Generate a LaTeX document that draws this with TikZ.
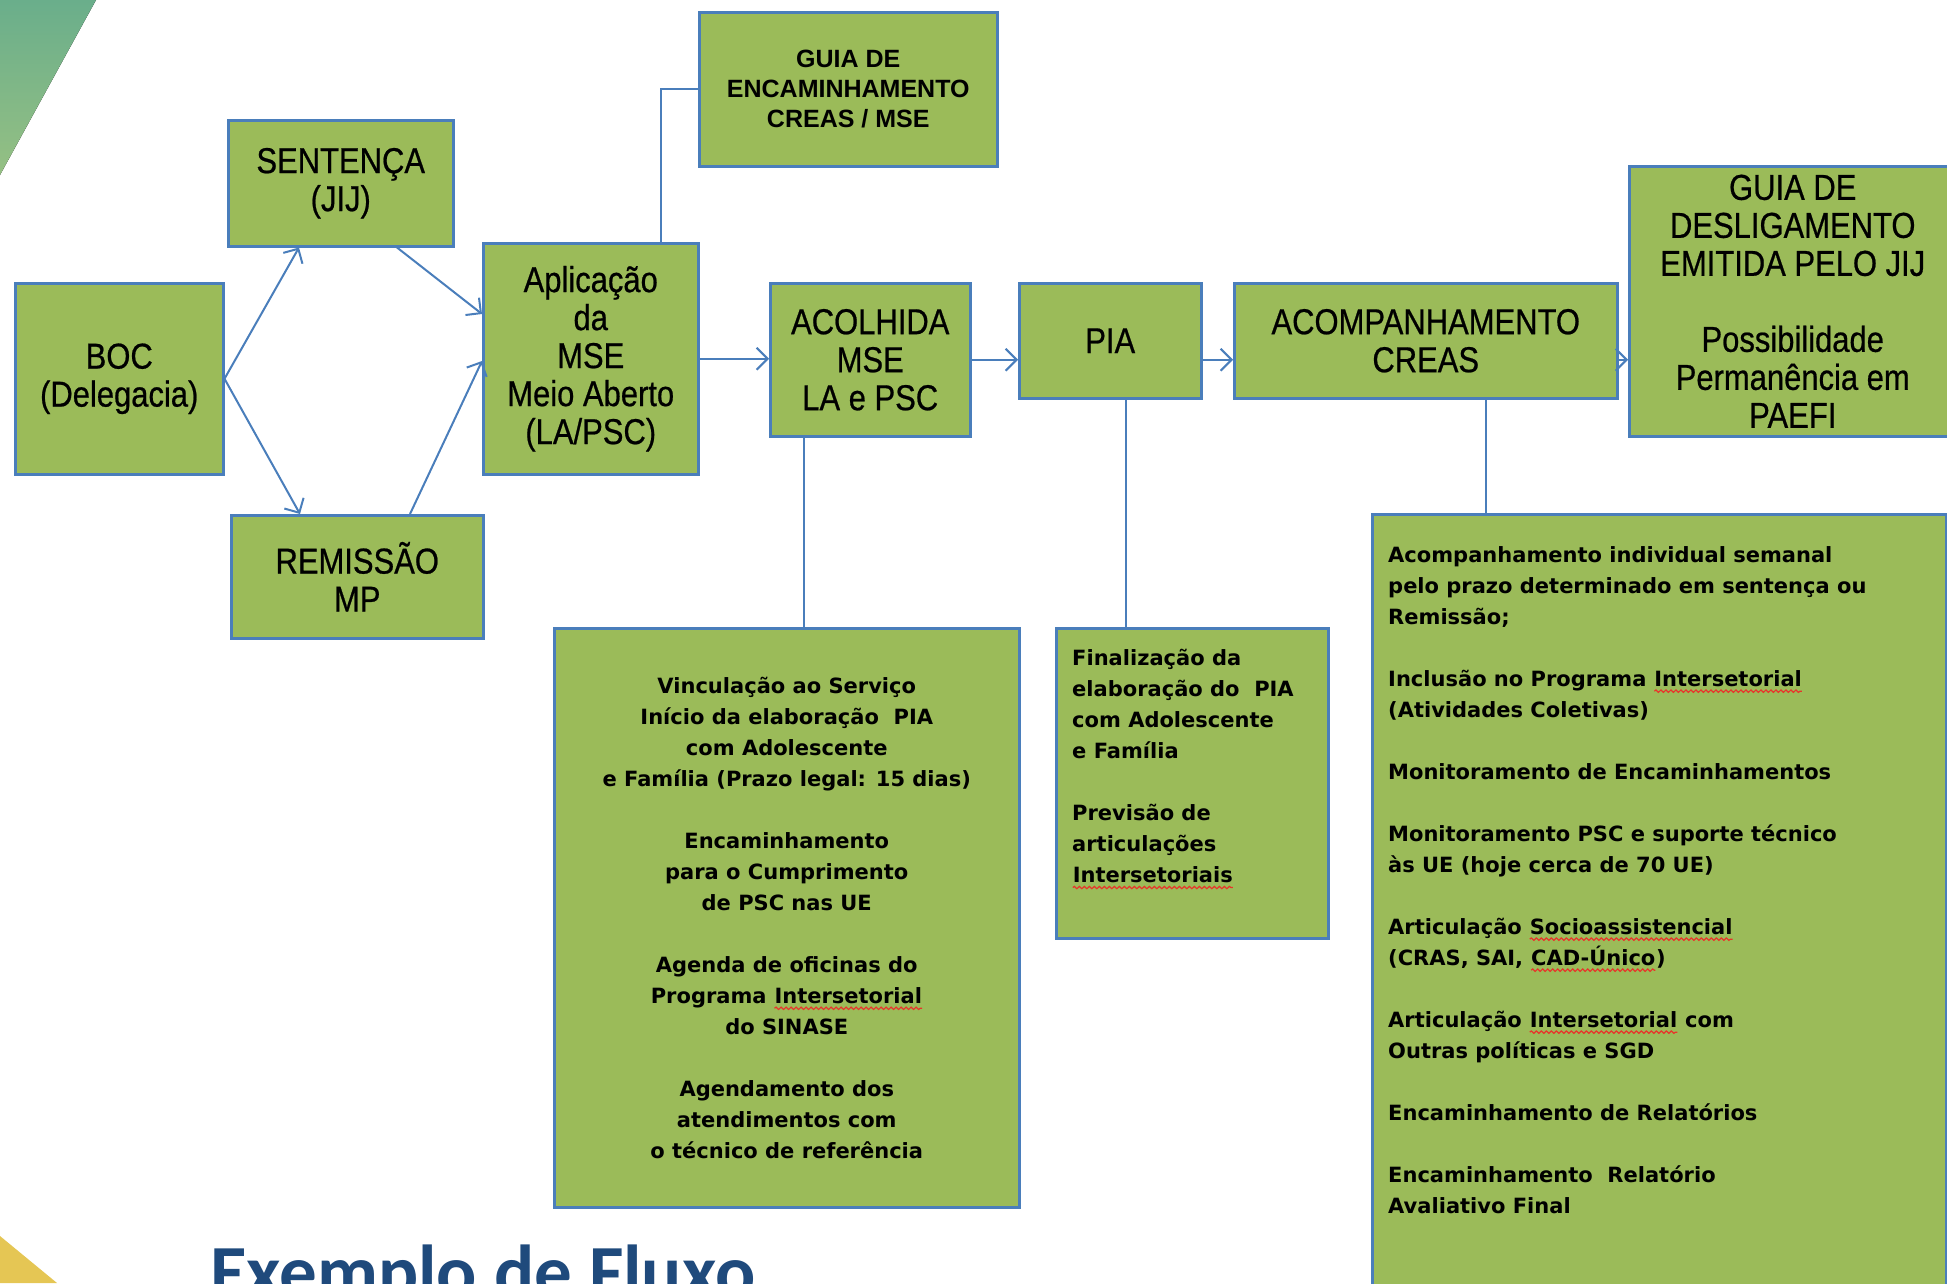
\documentclass[tikz,border=0pt]{standalone}
\usepackage{fontspec}
\usetikzlibrary{arrows.meta,calc,decorations.pathmorphing}
\setmainfont{Liberation Sans}
\newfontfamily\narrowf[FakeStretch=0.86,FakeBold=0.6]{Liberation Sans}
\newfontfamily\verdf{DejaVu Sans}
\newfontfamily\calibf{Carlito}
\definecolor{boxgreen}{HTML}{9BBB59}
\definecolor{boxblue}{HTML}{4A7EBB}
\definecolor{titleblue}{HTML}{1F4A7C}
\definecolor{wavered}{HTML}{E8342A}
\definecolor{leafA}{HTML}{6AAE8B}
\definecolor{leafB}{HTML}{95C083}
\definecolor{sunY}{HTML}{E5C654}
\newcommand\redwave[1]{\tikz[baseline=(wv.base)]{\node[inner sep=0pt, outer sep=0pt, minimum width=0pt, minimum height=0pt, anchor=base, draw=none, fill=none, align=left] (wv) {#1};\draw[wavered, line width=1.2pt, decorate, decoration={snake, amplitude=1.2pt, segment length=5pt}] ([yshift=-5pt]wv.base west) -- ([yshift=-5pt]wv.base east);}}
\tikzset{
  gbox/.style={draw=boxblue, fill=boxgreen, line width=2.5pt, inner sep=0pt, align=center, anchor=north west},
  bigtxt/.style={font=\narrowf\fontsize{36}{38}\selectfont},
  smalltxt/.style={font=\verdf\bfseries\fontsize{21}{31}\selectfont},
  conn/.style={draw=boxblue, line width=2pt},
  arr/.style={conn, -{Straight Barb[length=11pt,width=22pt]}}
}
\begin{document}
\begin{tikzpicture}[x=1pt,y=-1pt]
\useasboundingbox (0,0) rectangle (1947,1283);
\clip (0,0) rectangle (1947,1283);
% decorative corners
\fill[top color=leafA, bottom color=leafB] (0,0) -- (96,0) -- (0,175) -- cycle;
\fill[sunY] (0,1236) -- (57,1283) -- (0,1283) -- cycle;
% boxes
\node[gbox, bigtxt, minimum width=208pt, minimum height=191pt] (boc) at (14,282) {BOC\\(Delegacia)};
\node[gbox, bigtxt, minimum width=225pt, minimum height=126pt] (sent) at (227,119) {SENTENÇA\\(JIJ)};
\node[gbox, bigtxt, minimum width=252pt, minimum height=123pt] (rem) at (230,514) {REMISSÃO\\MP};
\node[gbox, bigtxt, minimum width=215pt, minimum height=231pt] (apl) at (482,242) {Aplicação\\da\\MSE\\Meio Aberto\\(LA/PSC)};
\node[gbox, font=\bfseries\fontsize{25}{30}\selectfont, minimum width=298pt, minimum height=154pt] (guia) at (698,11) {GUIA DE\\ENCAMINHAMENTO\\CREAS / MSE};
\node[gbox, bigtxt, minimum width=200pt, minimum height=153pt] (acol) at (769,282) {ACOLHIDA\\MSE\\LA e PSC};
\node[gbox, bigtxt, minimum width=182pt, minimum height=115pt] (pia) at (1018,282) {PIA};
\node[gbox, bigtxt, minimum width=383pt, minimum height=115pt] (creas) at (1233,282) {ACOMPANHAMENTO\\CREAS};
\node[gbox, bigtxt, minimum width=327pt, minimum height=270pt] (desl) at (1628,165) {GUIA DE\\DESLIGAMENTO\\EMITIDA PELO JIJ\\[38pt]Possibilidade\\Permanência em\\PAEFI};
\node[gbox, smalltxt, minimum width=465pt, minimum height=579pt] (d1) at (553,627) {Vinculação ao Serviço\\Início da elaboração\ \ PIA\\com Adolescente\\e Família (Prazo legal: 15 dias)\\[31pt]Encaminhamento\\para o Cumprimento\\de PSC nas UE\\[31pt]Agenda de oficinas do\\Programa \redwave{Intersetorial}\\do SINASE\\[31pt]Agendamento dos\\atendimentos com\\o técnico de referência};
\node[gbox, minimum width=272pt, minimum height=310pt] (d2) at (1055,627) {};
\node[gbox, minimum width=574pt, minimum height=800pt] (d3) at (1371,513) {};
\node[smalltxt, align=left, anchor=north west, inner sep=0pt] (d2t) at (1072,649) {Finalização da\\elaboração do\ \ PIA\\com Adolescente\\e Família\\[31pt]Previsão de\\articulações\\\redwave{Intersetoriais}};
\node[smalltxt, align=left, anchor=north west, inner sep=0pt] (d3t) at (1388,546) {Acompanhamento individual semanal\\pelo prazo determinado em sentença ou\\Remissão;\\[31pt]Inclusão no Programa \redwave{Intersetorial}\\(Atividades Coletivas)\\[31pt]Monitoramento de Encaminhamentos\\[31pt]Monitoramento PSC e suporte técnico\\às UE (hoje cerca de 70 UE)\\[31pt]Articulação \redwave{Socioassistencial}\\(CRAS, SAI, \redwave{CAD-Único})\\[31pt]Articulação \redwave{Intersetorial} com\\Outras políticas e SGD\\[31pt]Encaminhamento de Relatórios\\[31pt]Encaminhamento\ \ Relatório\\Avaliativo Final};
% title
\node[anchor=base west, inner sep=0pt, text=titleblue, font=\calibf\bfseries\fontsize{75}{80}\selectfont] (title) at (210,1297) {Exemplo de Fluxo};
% connectors
\draw[arr] (boc.east) -- ($(sent.south west)+(72,0)$);
\draw[arr] (boc.east) -- ($(rem.north west)+(70,0)$);
\draw[arr] ($(sent.south west)+(170,0)$) -- ($(apl.north west)+(0,72)$);
\draw[arr] ($(rem.north west)+(180,0)$) -- ($(apl.north west)+(0,119)$);
\draw[arr] (apl.east) -- (apl.east -| acol.west);
\draw[arr] (acol.east) -- (acol.east -| pia.west);
\draw[arr] (pia.east |- acol.east) -- (creas.west |- acol.east);
\draw[arr] (creas.east |- acol.east) -- (desl.west |- acol.east);
\coordinate (aplt) at ($(apl.north west)+(179,0)$);
\draw[conn] (aplt) |- (guia.west);
\coordinate (acolb) at ($(acol.south west)+(35,0)$);
\draw[conn] (acolb) -- (acolb |- d1.north);
\coordinate (piab) at ($(pia.south west)+(108,0)$);
\draw[conn] (piab) -- (piab |- d2.north);
\coordinate (creasb) at ($(creas.south west)+(253,0)$);
\draw[conn] (creasb) -- (creasb |- d3.north);
\end{tikzpicture}
\end{document}
